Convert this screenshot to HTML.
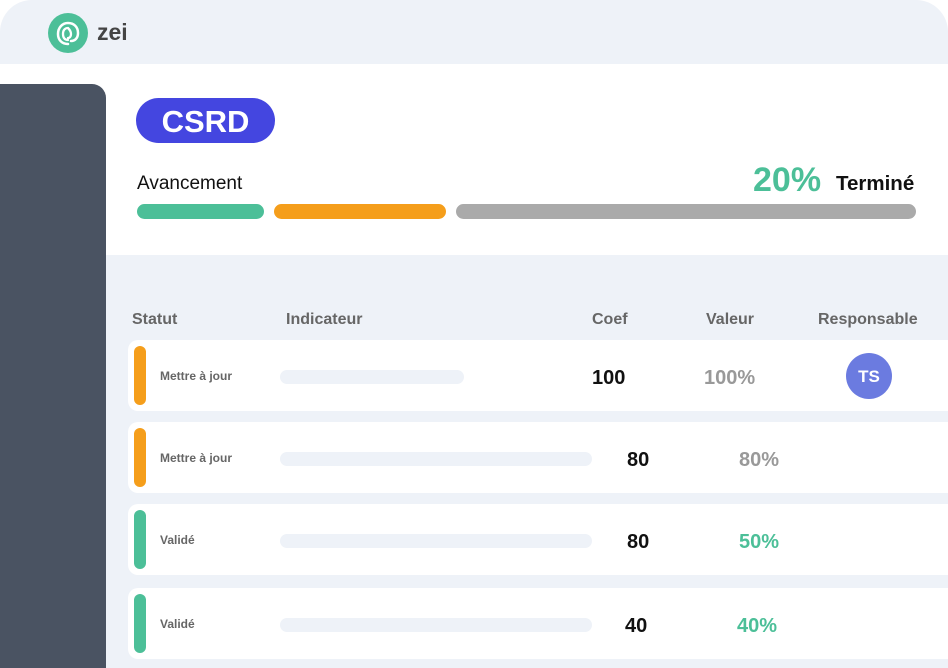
<!DOCTYPE html>
<html><head><meta charset="utf-8"><style>
*{margin:0;padding:0;box-sizing:border-box}
body{width:948px;height:668px;background:#fff;font-family:"Liberation Sans",sans-serif;position:relative;overflow:hidden}
.card{position:absolute;left:0;top:0;width:948px;height:668px;background:#eef2f8;border-radius:32px 32px 0 0}
.abs{position:absolute}
.white{left:0;top:64px;width:948px;height:191px;background:#fff}
.side{left:0;top:84px;width:106px;height:584px;background:#4a5362;border-radius:0 14px 0 0}
.pill{left:136px;top:98px;width:139px;height:45px;border-radius:23px;background:#4446e0;color:#fff;font-weight:bold;font-size:31px;line-height:47px;text-align:center}
.bar{height:15px;border-radius:8px;top:204px}
.hd{top:310px;font-size:16px;color:#666;font-weight:bold}
.row{left:128px;width:830px;height:71px;background:#fff;border-radius:10px}
.st{left:6px;top:6px;width:12px;height:59px;border-radius:6px}
.lbl{left:32px;font-size:12px;color:#666;font-weight:bold;top:29px}
.ph{top:30px;height:14px;border-radius:7px;background:#eef2f8;left:152px}
.num{font-size:20px;font-weight:bold;color:#111;top:27px}
.val{font-size:20px;font-weight:bold;top:27px}
</style></head><body>
<div class="card"></div>
<div class="abs" style="left:48px;top:13px;width:40px;height:40px;border-radius:50%;background:#4cbf98"></div>
<svg class="abs" style="left:48px;top:13px" width="40" height="40"><path d="M20 31c-6 0-10-4-10-10s4-11 10-11 10 4 10 10c0 5-3 8-7 8" fill="none" stroke="#fff" stroke-width="2.5" stroke-linecap="round"/><path d="M20 27c-3 0-5-2-5-6s2-6 5-6c2 2 3 4 3 6s-1 4-3 4" fill="none" stroke="#fff" stroke-width="2.3" stroke-linecap="round"/></svg>
<div class="abs" style="left:97px;top:19px;font-size:23px;font-weight:bold;color:#444">zei</div>
<div class="abs white"></div>
<div class="abs side"></div>
<div class="abs pill">CSRD</div>
<div class="abs" style="left:137px;top:173px;font-size:19px;color:#111">Avancement</div>
<div class="abs" style="left:753px;top:161px;font-size:34px;font-weight:bold;color:#4cbf98">20%</div>
<div class="abs" style="left:836px;top:172px;font-size:20.5px;font-weight:bold;color:#111">Terminé</div>
<div class="abs bar" style="left:137px;width:127px;background:#4cbf98"></div>
<div class="abs bar" style="left:274px;width:172px;background:#f59e1b"></div>
<div class="abs bar" style="left:456px;width:460px;background:#aaa"></div>
<div class="abs hd" style="left:132px;top:311px">Statut</div>
<div class="abs hd" style="left:286px;top:311px">Indicateur</div>
<div class="abs hd" style="left:592px;top:311px">Coef</div>
<div class="abs hd" style="left:706px;top:311px">Valeur</div>
<div class="abs hd" style="left:818px;top:311px">Responsable</div>

<div class="abs row" style="top:340px">
<div class="abs st" style="background:#f59e1b"></div><div class="abs lbl">Mettre à jour</div>
<div class="abs ph" style="width:184px"></div>
<div class="abs num" style="left:464px">100</div><div class="abs val" style="left:576px;color:#999">100%</div>
<div class="abs" style="left:718px;top:13px;width:46px;height:46px;border-radius:50%;background:#6b7be0;color:#fff;font-weight:bold;font-size:17px;line-height:48px;text-align:center">TS</div>
</div>
<div class="abs row" style="top:422px">
<div class="abs st" style="background:#f59e1b"></div><div class="abs lbl">Mettre à jour</div>
<div class="abs ph" style="width:312px"></div>
<div class="abs num" style="left:499px">80</div><div class="abs val" style="left:611px;color:#999">80%</div>
</div>
<div class="abs row" style="top:504px">
<div class="abs st" style="background:#4cbf98"></div><div class="abs lbl">Validé</div>
<div class="abs ph" style="width:312px"></div>
<div class="abs num" style="left:499px">80</div><div class="abs val" style="left:611px;color:#4cbf98">50%</div>
</div>
<div class="abs row" style="top:588px">
<div class="abs st" style="background:#4cbf98"></div><div class="abs lbl">Validé</div>
<div class="abs ph" style="width:312px"></div>
<div class="abs num" style="left:497px">40</div><div class="abs val" style="left:609px;color:#4cbf98">40%</div>
</div>
</body></html>
